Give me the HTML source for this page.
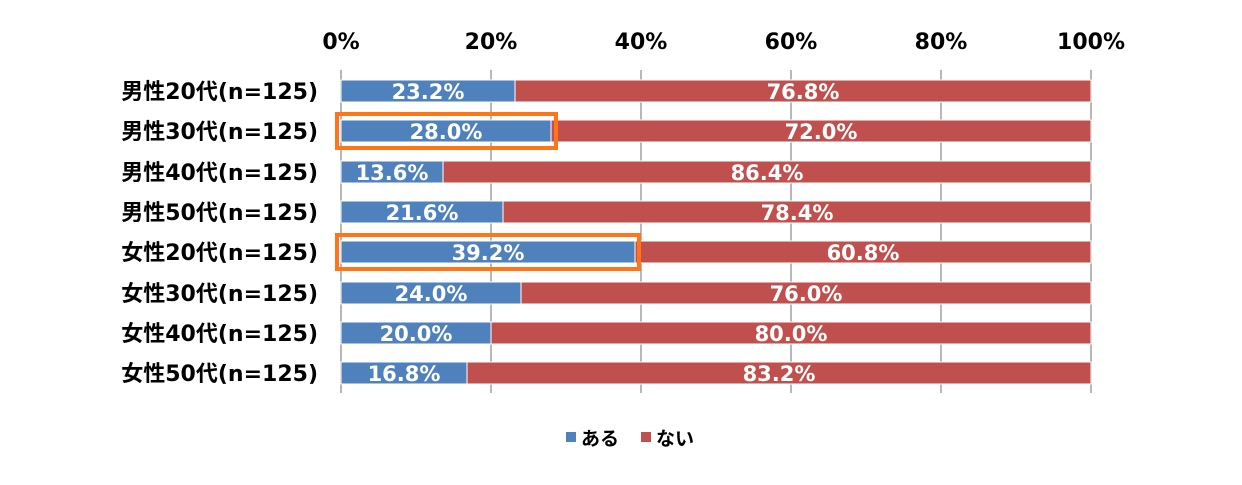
<!DOCTYPE html>
<html><head><meta charset="utf-8"><style>
body{margin:0;background:#fff;width:1242px;height:480px;overflow:hidden}
svg text{font-family:"DejaVu Sans","Noto Sans CJK JP",sans-serif;font-weight:bold}
</style></head><body>
<svg width="1242" height="480" xmlns="http://www.w3.org/2000/svg">
<g stroke="#a0a0a0" stroke-width="1.5">
<line x1="341" y1="70" x2="341" y2="393"/><line x1="491" y1="70" x2="491" y2="393"/><line x1="641" y1="70" x2="641" y2="393"/><line x1="791" y1="70" x2="791" y2="393"/><line x1="941" y1="70" x2="941" y2="393"/><line x1="1091" y1="70" x2="1091" y2="393"/>
</g>
<g font-size="22" fill="#000" text-anchor="middle">
<text x="341" y="49">0%</text><text x="491" y="49">20%</text><text x="641" y="49">40%</text><text x="791" y="49">60%</text><text x="941" y="49">80%</text><text x="1091" y="49">100%</text>
</g>
<g stroke="#fff" stroke-width="1">
<rect x="341" y="80" width="174" height="22" fill="#4f81bd"/><rect x="515" y="80" width="576" height="22" fill="#c0504d"/>
<rect x="341" y="120" width="210" height="22" fill="#4f81bd"/><rect x="551" y="120" width="540" height="22" fill="#c0504d"/>
<rect x="341" y="161" width="102" height="22" fill="#4f81bd"/><rect x="443" y="161" width="648" height="22" fill="#c0504d"/>
<rect x="341" y="201" width="162" height="22" fill="#4f81bd"/><rect x="503" y="201" width="588" height="22" fill="#c0504d"/>
<rect x="341" y="241" width="294" height="22" fill="#4f81bd"/><rect x="635" y="241" width="456" height="22" fill="#c0504d"/>
<rect x="341" y="282" width="180" height="22" fill="#4f81bd"/><rect x="521" y="282" width="570" height="22" fill="#c0504d"/>
<rect x="341" y="322" width="150" height="22" fill="#4f81bd"/><rect x="491" y="322" width="600" height="22" fill="#c0504d"/>
<rect x="341" y="362" width="126" height="22" fill="#4f81bd"/><rect x="467" y="362" width="624" height="22" fill="#c0504d"/>
</g>
<g font-size="21" fill="#fff" text-anchor="middle">
<text x="428" y="99">23.2%</text><text x="803" y="99">76.8%</text>
<text x="446" y="139">28.0%</text><text x="821" y="139">72.0%</text>
<text x="392" y="180">13.6%</text><text x="767" y="180">86.4%</text>
<text x="422" y="220">21.6%</text><text x="797" y="220">78.4%</text>
<text x="488" y="260">39.2%</text><text x="863" y="260">60.8%</text>
<text x="431" y="301">24.0%</text><text x="806" y="301">76.0%</text>
<text x="416" y="341">20.0%</text><text x="791" y="341">80.0%</text>
<text x="404" y="381">16.8%</text><text x="779" y="381">83.2%</text>
</g>
<g font-size="22" fill="#000" text-anchor="end">
<text x="318" y="99">男性20代(n=125)</text>
<text x="318" y="139">男性30代(n=125)</text>
<text x="318" y="180">男性40代(n=125)</text>
<text x="318" y="220">男性50代(n=125)</text>
<text x="318" y="260">女性20代(n=125)</text>
<text x="318" y="301">女性30代(n=125)</text>
<text x="318" y="341">女性40代(n=125)</text>
<text x="318" y="381">女性50代(n=125)</text>
</g>
<rect x="337" y="114" width="219" height="34" fill="none" stroke="#ff7518" stroke-width="4"/>
<rect x="337" y="235" width="302" height="34" fill="none" stroke="#ff7518" stroke-width="4"/>
<rect x="566" y="432" width="10" height="10" fill="#4f81bd"/>
<text x="581" y="445" font-size="19">ある</text>
<rect x="641" y="432" width="10" height="10" fill="#c0504d"/>
<text x="656" y="445" font-size="19">ない</text>
</svg>
</body></html>
